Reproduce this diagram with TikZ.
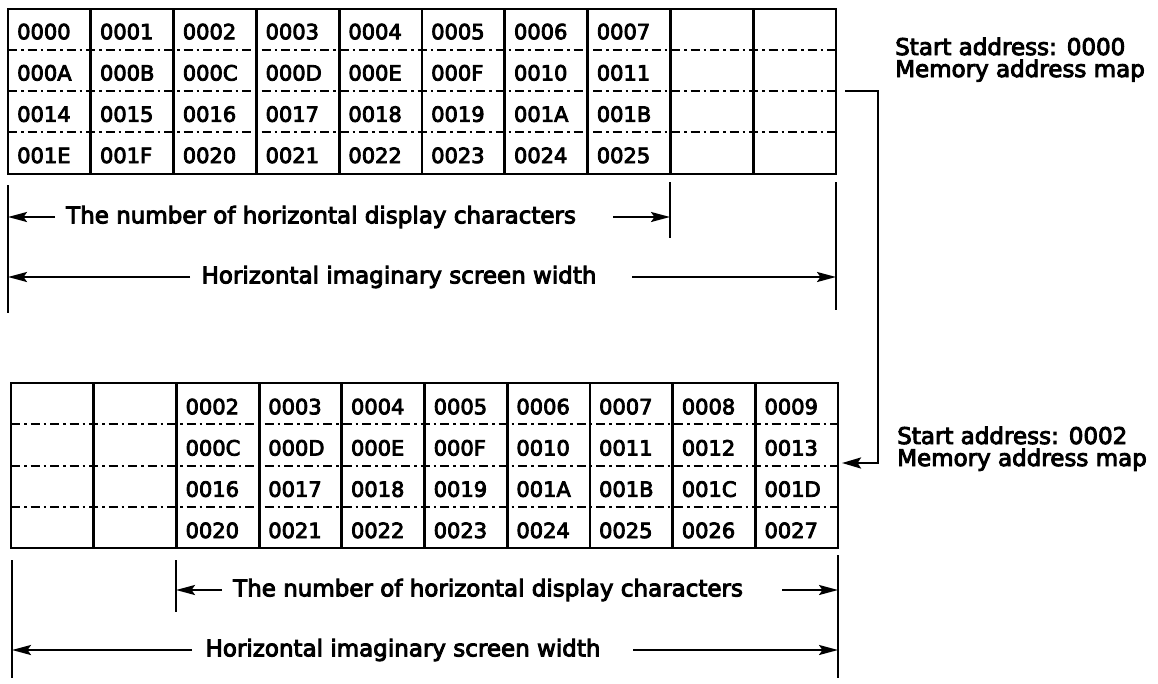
\documentclass[tikz,border=0pt]{standalone}
\usepackage{fontspec}
\setmainfont{DejaVu Sans}[FakeBold=4]
\usetikzlibrary{arrows.meta}
\begin{document}
\begin{tikzpicture}[x=1pt,y=-1pt,
  tbl/.style={line width=2.8pt},
  sep/.style={line width=2pt, dash pattern=on 9pt off 4pt on 2.5pt off 4pt},
  cell/.style={anchor=west, inner sep=0pt, font=\fontsize{21}{25}\selectfont},
  lbl/.style={inner sep=0pt, font=\fontsize{23}{27}\selectfont},
  tickln/.style={line width=2.6pt},
  dimarrow/.style={line width=2.2pt, -{Stealth[length=19pt,width=10pt,inset=3.5pt]}},
  link/.style={line width=2.6pt, -{Stealth[length=19pt,width=11pt,inset=3.5pt]}}]

\useasboundingbox (0,0) rectangle (1158,683);

% ---------- top table (start address 0000)
\foreach \y in {50,91,132} \draw[sep] (8,\y) -- (836,\y);
\foreach \i in {1,...,9} \draw[tbl] ({8+82.8*\i},9) -- ({8+82.8*\i},174);
\draw[tbl] (8,9) rectangle (836,174);

\foreach \row [count=\r] in {
  {0000,0001,0002,0003,0004,0005,0006,0007},
  {000A,000B,000C,000D,000E,000F,0010,0011},
  {0014,0015,0016,0017,0018,0019,001A,001B},
  {001E,001F,0020,0021,0022,0023,0024,0025}}{
  \foreach \v [count=\c] in \row {
    \node[cell] (t-\r-\c) at ({8+82.8*(\c-1)+9},{9+41.25*(\r-0.5)+2}) {\v};
  }
}

% ---------- bottom table (start address 0002)
\foreach \y in {424.25,465.5,506.75} \draw[sep] (11,\y) -- (838,\y);
\foreach \i in {1,...,9} \draw[tbl] ({11+82.7*\i},383) -- ({11+82.7*\i},548);
\draw[tbl] (11,383) rectangle (838,548);

\foreach \row [count=\r] in {
  {0002,0003,0004,0005,0006,0007,0008,0009},
  {000C,000D,000E,000F,0010,0011,0012,0013},
  {0016,0017,0018,0019,001A,001B,001C,001D},
  {0020,0021,0022,0023,0024,0025,0026,0027}}{
  \foreach \v [count=\c] in \row {
    \node[cell] (b-\r-\c) at ({11+82.7*(\c+1)+9},{383+41.25*(\r-0.5)+3}) {\v};
  }
}

% ---------- top dimensions
\coordinate (tA1) at (8,185);   \coordinate (tA2) at (8,313);
\coordinate (tB1) at (670,182); \coordinate (tB2) at (670,238);
\coordinate (tC1) at (836,182); \coordinate (tC2) at (836,310);
\draw[tickln] (tA1) -- (tA2);
\draw[tickln] (tB1) -- (tB2);
\draw[tickln] (tC1) -- (tC2);

\node[lbl] (dn1) at (321,217) {The number of horizontal display characters};
\coordinate (dn1l) at (55,217);  \coordinate (dn1r) at (613,217);
\draw[dimarrow] (dn1l) -- (tA1 |- dn1l);
\draw[dimarrow] (dn1r) -- (tB1 |- dn1r);

\node[lbl] (dw1) at (399,277) {Horizontal imaginary screen width};
\coordinate (dw1l) at (190,277); \coordinate (dw1r) at (632,277);
\draw[dimarrow] (dw1l) -- (tA1 |- dw1l);
\draw[dimarrow] (dw1r) -- (tC1 |- dw1r);

% ---------- bottom dimensions
\coordinate (bD1) at (12,560);  \coordinate (bD2) at (12,678);
\coordinate (bE1) at (176,560); \coordinate (bE2) at (176,612);
\coordinate (bF1) at (838,555); \coordinate (bF2) at (838,678);
\draw[tickln] (bD1) -- (bD2);
\draw[tickln] (bE1) -- (bE2);
\draw[tickln] (bF1) -- (bF2);

\node[lbl] (dn2) at (488,590) {The number of horizontal display characters};
\coordinate (dn2l) at (222,590); \coordinate (dn2r) at (782,590);
\draw[dimarrow] (dn2l) -- (bE1 |- dn2l);
\draw[dimarrow] (dn2r) -- (bF1 |- dn2r);

\node[lbl] (dw2) at (403,650) {Horizontal imaginary screen width};
\coordinate (dw2l) at (192,650); \coordinate (dw2r) at (633,650);
\draw[dimarrow] (dw2l) -- (bD1 |- dw2l);
\draw[dimarrow] (dw2r) -- (bF1 |- dw2r);

% ---------- side labels
\node[lbl, anchor=base west] (sa0) at (895,55) {Start address:\hspace{10pt}0000};
\node[lbl, anchor=base west] (mm0) at (895,77) {Memory address map};
\node[lbl, anchor=base west] (sa2) at (897,444) {Start address:\hspace{10pt}0002};
\node[lbl, anchor=base west] (mm2) at (897,466) {Memory address map};

% ---------- link between the maps
\coordinate (k0) at (845,91);
\coordinate (k1) at (878,91);
\coordinate (k2) at (878,463);
\coordinate (k3) at (842,463);
\draw[link] (k0) -- (k1) -- (k2) -- (k3);
\end{tikzpicture}
\end{document}
